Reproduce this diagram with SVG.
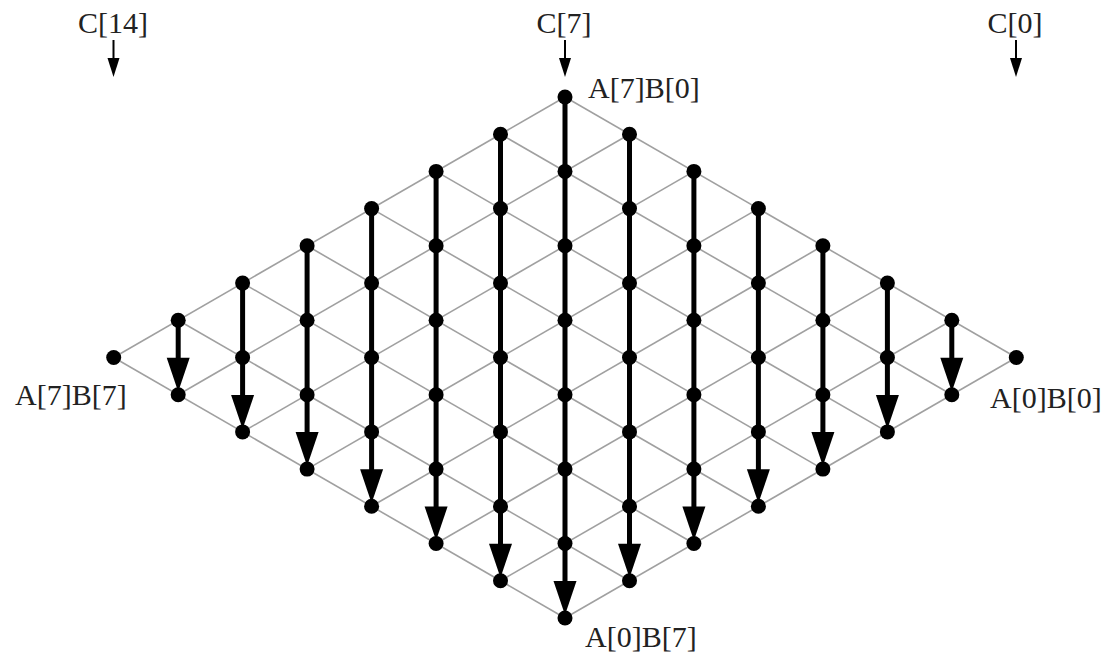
<svg xmlns="http://www.w3.org/2000/svg" xmlns:xlink="http://www.w3.org/1999/xlink" width="1105" height="654" viewBox="0 0 1105 654">
<style>
.grid line{stroke:#a0a0a0;stroke-width:1.6;fill:none}
.col line{stroke:#000;stroke-width:5;marker-end:url(#big)}
.top line{stroke:#000;stroke-width:2;marker-end:url(#small)}
circle{fill:#000}
text{font-family:"Liberation Serif","Times New Roman",serif;font-size:30px;fill:#222}
</style>
<defs>
<marker id="big" markerUnits="userSpaceOnUse" markerWidth="34" markerHeight="23" refX="17" refY="11.5" orient="auto" overflow="visible"><path d="M0,0 L34,11.5 L0,23 z" fill="#000"/></marker>
<marker id="small" markerUnits="userSpaceOnUse" markerWidth="19" markerHeight="12" refX="12" refY="6" orient="auto" overflow="visible"><path d="M0,0 L19,6 L0,12 z" fill="#000"/></marker>
</defs>
<rect width="1105" height="654" fill="#fff"/>
<g id="connectors">
<g class="grid">
<line x1="565" y1="97" x2="113.7" y2="357.5"/>
<line x1="629.5" y1="134.2" x2="178.2" y2="394.7"/>
<line x1="693.9" y1="171.4" x2="242.6" y2="431.9"/>
<line x1="758.4" y1="208.6" x2="307.1" y2="469.1"/>
<line x1="822.9" y1="245.8" x2="371.6" y2="506.3"/>
<line x1="887.4" y1="283.1" x2="436.1" y2="543.5"/>
<line x1="951.8" y1="320.3" x2="500.5" y2="580.7"/>
<line x1="1016.3" y1="357.5" x2="565" y2="618"/>
<line x1="565" y1="97" x2="1016.3" y2="357.5"/>
<line x1="500.5" y1="134.2" x2="951.8" y2="394.7"/>
<line x1="436.1" y1="171.4" x2="887.4" y2="431.9"/>
<line x1="371.6" y1="208.6" x2="822.9" y2="469.1"/>
<line x1="307.1" y1="245.8" x2="758.4" y2="506.3"/>
<line x1="242.6" y1="283.1" x2="693.9" y2="543.5"/>
<line x1="178.2" y1="320.3" x2="629.5" y2="580.7"/>
<line x1="113.7" y1="357.5" x2="565" y2="618"/>
</g>
<g class="col">
<line x1="178.2" y1="320.3" x2="178.2" y2="374.7"/>
<line x1="242.6" y1="283.1" x2="242.6" y2="411.9"/>
<line x1="307.1" y1="245.8" x2="307.1" y2="449.1"/>
<line x1="371.6" y1="208.6" x2="371.6" y2="486.3"/>
<line x1="436.1" y1="171.4" x2="436.1" y2="523.5"/>
<line x1="500.5" y1="134.2" x2="500.5" y2="560.7"/>
<line x1="565" y1="97" x2="565" y2="598"/>
<line x1="629.5" y1="134.2" x2="629.5" y2="560.7"/>
<line x1="693.9" y1="171.4" x2="693.9" y2="523.5"/>
<line x1="758.4" y1="208.6" x2="758.4" y2="486.3"/>
<line x1="822.9" y1="245.8" x2="822.9" y2="449.1"/>
<line x1="887.4" y1="283.1" x2="887.4" y2="411.9"/>
<line x1="951.8" y1="320.3" x2="951.8" y2="374.7"/>
</g>
<g class="top">
<line x1="113.5" y1="40" x2="113.5" y2="70"/>
<line x1="565" y1="40" x2="565" y2="70"/>
<line x1="1016" y1="40" x2="1016" y2="70"/>
</g>
</g>
<g id="labels">
<text x="113" y="33" text-anchor="middle">C[14]</text>
<text x="564" y="33" text-anchor="middle">C[7]</text>
<text x="1015" y="33" text-anchor="middle">C[0]</text>
</g>
<g id="nodes">
<g id="A7B0"><circle cx="565" cy="97" r="7.5"/><text x="588" y="98">A[7]B[0]</text></g>
<g id="A7B1"><circle cx="500.5" cy="134.2" r="7.5"/></g>
<g id="A7B2"><circle cx="436.1" cy="171.4" r="7.5"/></g>
<g id="A7B3"><circle cx="371.6" cy="208.6" r="7.5"/></g>
<g id="A7B4"><circle cx="307.1" cy="245.8" r="7.5"/></g>
<g id="A7B5"><circle cx="242.6" cy="283.1" r="7.5"/></g>
<g id="A7B6"><circle cx="178.2" cy="320.3" r="7.5"/></g>
<g id="A7B7"><circle cx="113.7" cy="357.5" r="7.5"/><text x="15" y="405">A[7]B[7]</text></g>
<g id="A6B0"><circle cx="629.5" cy="134.2" r="7.5"/></g>
<g id="A6B1"><circle cx="565" cy="171.4" r="7.5"/></g>
<g id="A6B2"><circle cx="500.5" cy="208.6" r="7.5"/></g>
<g id="A6B3"><circle cx="436.1" cy="245.8" r="7.5"/></g>
<g id="A6B4"><circle cx="371.6" cy="283.1" r="7.5"/></g>
<g id="A6B5"><circle cx="307.1" cy="320.3" r="7.5"/></g>
<g id="A6B6"><circle cx="242.6" cy="357.5" r="7.5"/></g>
<g id="A6B7"><circle cx="178.2" cy="394.7" r="7.5"/></g>
<g id="A5B0"><circle cx="693.9" cy="171.4" r="7.5"/></g>
<g id="A5B1"><circle cx="629.5" cy="208.6" r="7.5"/></g>
<g id="A5B2"><circle cx="565" cy="245.8" r="7.5"/></g>
<g id="A5B3"><circle cx="500.5" cy="283.1" r="7.5"/></g>
<g id="A5B4"><circle cx="436.1" cy="320.3" r="7.5"/></g>
<g id="A5B5"><circle cx="371.6" cy="357.5" r="7.5"/></g>
<g id="A5B6"><circle cx="307.1" cy="394.7" r="7.5"/></g>
<g id="A5B7"><circle cx="242.6" cy="431.9" r="7.5"/></g>
<g id="A4B0"><circle cx="758.4" cy="208.6" r="7.5"/></g>
<g id="A4B1"><circle cx="693.9" cy="245.8" r="7.5"/></g>
<g id="A4B2"><circle cx="629.5" cy="283.1" r="7.5"/></g>
<g id="A4B3"><circle cx="565" cy="320.3" r="7.5"/></g>
<g id="A4B4"><circle cx="500.5" cy="357.5" r="7.5"/></g>
<g id="A4B5"><circle cx="436.1" cy="394.7" r="7.5"/></g>
<g id="A4B6"><circle cx="371.6" cy="431.9" r="7.5"/></g>
<g id="A4B7"><circle cx="307.1" cy="469.1" r="7.5"/></g>
<g id="A3B0"><circle cx="822.9" cy="245.8" r="7.5"/></g>
<g id="A3B1"><circle cx="758.4" cy="283.1" r="7.5"/></g>
<g id="A3B2"><circle cx="693.9" cy="320.3" r="7.5"/></g>
<g id="A3B3"><circle cx="629.5" cy="357.5" r="7.5"/></g>
<g id="A3B4"><circle cx="565" cy="394.7" r="7.5"/></g>
<g id="A3B5"><circle cx="500.5" cy="431.9" r="7.5"/></g>
<g id="A3B6"><circle cx="436.1" cy="469.1" r="7.5"/></g>
<g id="A3B7"><circle cx="371.6" cy="506.3" r="7.5"/></g>
<g id="A2B0"><circle cx="887.4" cy="283.1" r="7.5"/></g>
<g id="A2B1"><circle cx="822.9" cy="320.3" r="7.5"/></g>
<g id="A2B2"><circle cx="758.4" cy="357.5" r="7.5"/></g>
<g id="A2B3"><circle cx="693.9" cy="394.7" r="7.5"/></g>
<g id="A2B4"><circle cx="629.5" cy="431.9" r="7.5"/></g>
<g id="A2B5"><circle cx="565" cy="469.1" r="7.5"/></g>
<g id="A2B6"><circle cx="500.5" cy="506.3" r="7.5"/></g>
<g id="A2B7"><circle cx="436.1" cy="543.5" r="7.5"/></g>
<g id="A1B0"><circle cx="951.8" cy="320.3" r="7.5"/></g>
<g id="A1B1"><circle cx="887.4" cy="357.5" r="7.5"/></g>
<g id="A1B2"><circle cx="822.9" cy="394.7" r="7.5"/></g>
<g id="A1B3"><circle cx="758.4" cy="431.9" r="7.5"/></g>
<g id="A1B4"><circle cx="693.9" cy="469.1" r="7.5"/></g>
<g id="A1B5"><circle cx="629.5" cy="506.3" r="7.5"/></g>
<g id="A1B6"><circle cx="565" cy="543.5" r="7.5"/></g>
<g id="A1B7"><circle cx="500.5" cy="580.7" r="7.5"/></g>
<g id="A0B0"><circle cx="1016.3" cy="357.5" r="7.5"/><text x="990" y="408">A[0]B[0]</text></g>
<g id="A0B1"><circle cx="951.8" cy="394.7" r="7.5"/></g>
<g id="A0B2"><circle cx="887.4" cy="431.9" r="7.5"/></g>
<g id="A0B3"><circle cx="822.9" cy="469.1" r="7.5"/></g>
<g id="A0B4"><circle cx="758.4" cy="506.3" r="7.5"/></g>
<g id="A0B5"><circle cx="693.9" cy="543.5" r="7.5"/></g>
<g id="A0B6"><circle cx="629.5" cy="580.7" r="7.5"/></g>
<g id="A0B7"><circle cx="565" cy="618" r="7.5"/><text x="585" y="647">A[0]B[7]</text></g>
</g>
</svg>
